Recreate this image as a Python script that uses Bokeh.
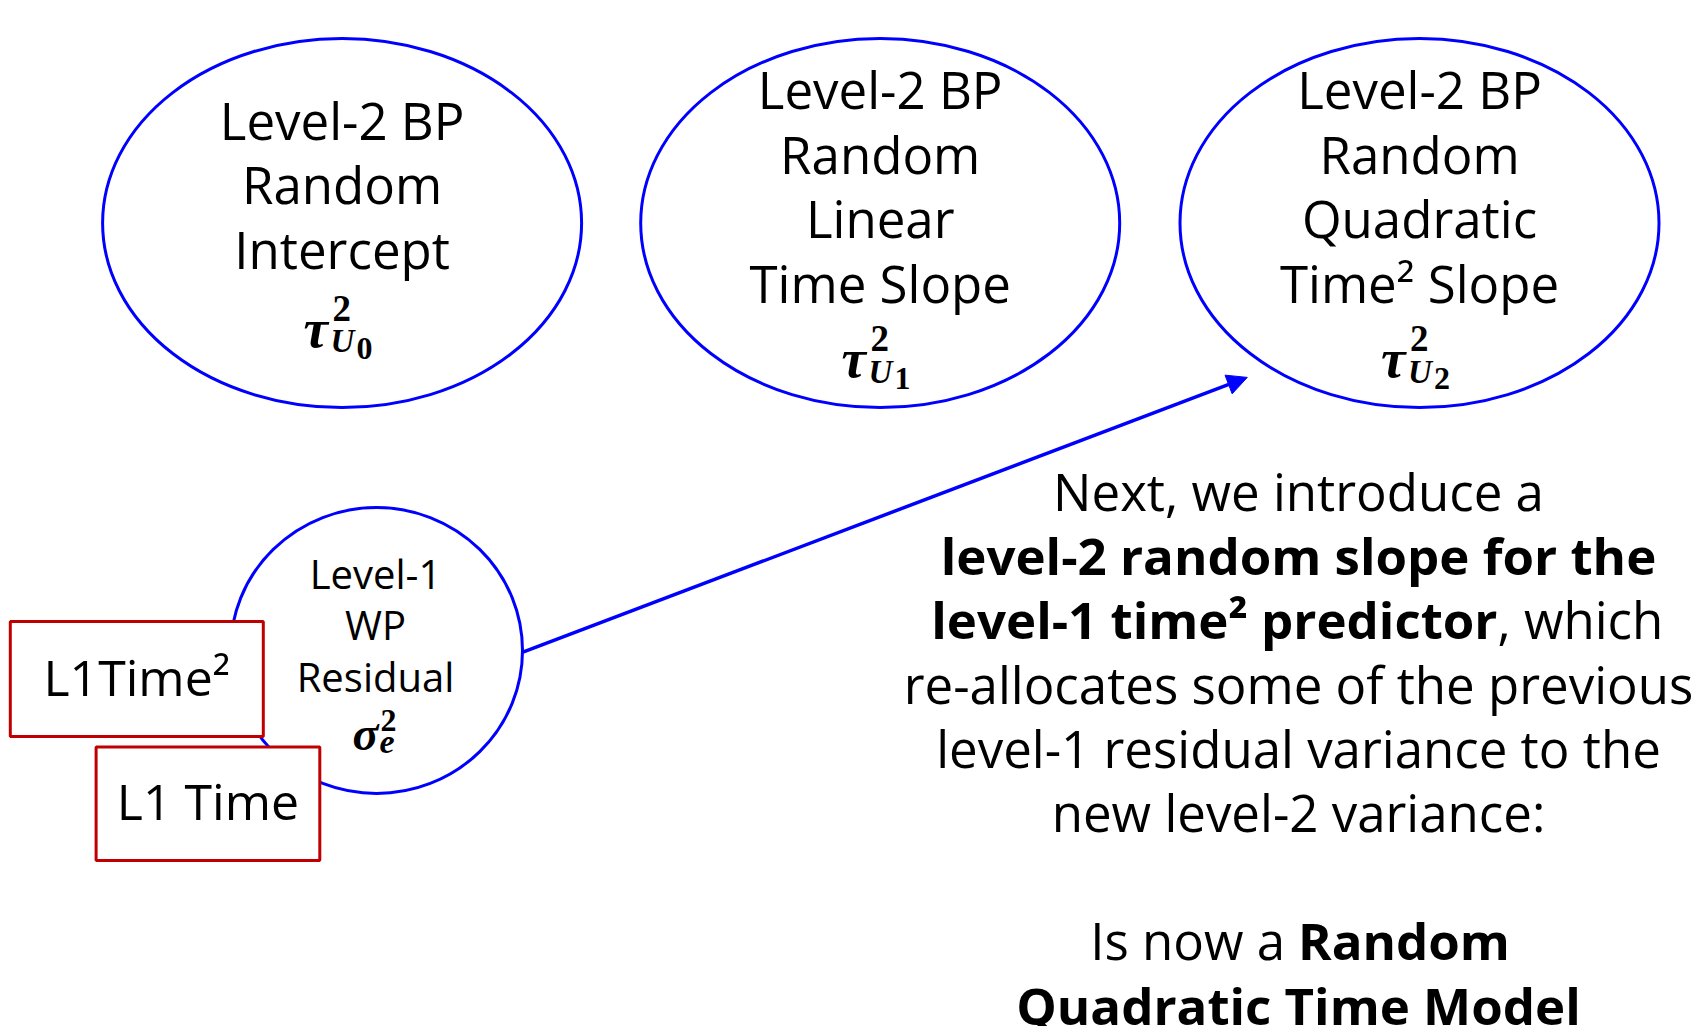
from bokeh.plotting import figure
from bokeh.models import Range1d, Arrow, NormalHead
from bokeh.embed import file_html
from bokeh.resources import INLINE
from bokeh.core.properties import value

# ---------------- content ----------------
bp_titles = [["Level-2 BP", "Random", "Intercept"],
             ["Level-2 BP", "Random", "Linear", "Time Slope"],
             ["Level-2 BP", "Random", "Quadratic", "Time\u00b2 Slope"]]
bp_math = [("\u03c4", "2", "U", "0"), ("\u03c4", "2", "U", "1"), ("\u03c4", "2", "U", "2")]
wp_title = ["Level-1", "WP", "Residual"]
wp_math = ("\u03c3", "2", "e", "")
predictors = ["L1Time\u00b2", "L1 Time"]
# each line: list of (text, bold)
note_lines = [
    [("Next, we introduce a", False)],
    [("level-2 random slope for the", True)],
    [("level-1 time\u00b2 predictor", True), (", which", False)],
    [("re-allocates some of the previous", False)],
    [("level-1 residual variance to the", False)],
    [("new level-2 variance:", False)],
    [("", False)],
    [("Is now a", False), ("Random", True)],
    [("Quadratic Time Model", True)],
]

# ---------------- layout (pixel-like data space) ----------------
W, H = 1703, 1026
FONT = "Open Sans"
MATH_FONT = "Liberation Serif"
BLUE = "#0000FF"
RED = "#C00000"

bp_cx = [341.6, 879.7, 1419.0]
bp_cy = 222.6
bp_w, bp_h = 479, 369
bp_first_y = [119.0, 88.5, 88.5]
bp_math_y = [316.5, 347.0, 347.0]
line_step = 64.5
big_size = 51

wp_cx, wp_cy, wp_w, wp_h = 376.0, 650.0, 292, 286
wp_first_y, wp_step, wp_size = 572.5, 51.5, 40
wp_math_xy = (373.5, 720.0)

pred_left = [9.8, 95.6]
pred_right = [262.8, 319.3]
pred_top = [621.0, 746.5]
pred_bottom = [736.0, 860.0]
pred_size = 50
pred_dy = -2.5

note_cx = 1298.0
note_first_y = 490.5
note_step = 64.2
note_split = {2: (1497.0, 0.0), 7: (1291.0, 13.0)}

arrow_start = (522.4, 651.7)
arrow_end = (1246.8, 376.9)

# math piece styles: (dx, baseline dy, size, font style)
TAU_STYLE = [(-38.6, 11.2, 55, "bold italic"),
             (-9.6, -8.8, 37, "bold"),
             (-11.6, 24.2, 33, "bold italic"),
             (14.4, 31.2, 32, "bold")]
SIGMA_STYLE = [(-21.5, 12.5, 48, "bold italic"),
               (6.5, -0.5, 32, "bold"),
               (5.5, 21.0, 34, "bold italic"),
               (0, 0, 1, "bold")]

p = figure(width=W, height=H, output_backend="svg", toolbar_location=None,
           x_range=Range1d(0, W), y_range=Range1d(H, 0), min_border=0)
p.axis.visible = False
p.grid.visible = False
p.outline_line_color = None
p.background_fill_color = "white"
p.border_fill_color = "white"

# ellipses
p.ellipse(x=bp_cx, y=[bp_cy] * 3, width=bp_w, height=bp_h,
          fill_color="white", line_color=BLUE, line_width=3)
p.ellipse(x=[wp_cx], y=[wp_cy], width=wp_w, height=wp_h,
          fill_color="white", line_color=BLUE, line_width=3)

# predictor boxes
p.quad(left=pred_left, right=pred_right, top=pred_top, bottom=pred_bottom,
       fill_color="white", line_color=RED, line_width=3)


def txt(xs, ys, texts, size, bold=False, align="center", baseline="middle",
        font=FONT, style=None):
    p.text(x=xs, y=ys, text=texts, text_font=value(font),
           text_font_size=value(f"{size}px"),
           text_font_style=style if style else ("bold" if bold else "normal"),
           text_align=align, text_baseline=baseline, text_color="black")


def math_label(cx, cy, parts, styles):
    for piece, (dx, dy, size, fstyle) in zip(parts, styles):
        if piece:
            txt([cx + dx], [cy + dy], [piece], size, align="left",
                baseline="alphabetic", font=MATH_FONT, style=fstyle)


for i, lines in enumerate(bp_titles):
    ys = [bp_first_y[i] + k * line_step for k in range(len(lines))]
    txt([bp_cx[i]] * len(lines), ys, lines, big_size)
    math_label(bp_cx[i], bp_math_y[i], bp_math[i], TAU_STYLE)

ys = [wp_first_y + k * wp_step for k in range(len(wp_title))]
txt([wp_cx - 1] * len(wp_title), ys, wp_title, wp_size)
math_label(wp_math_xy[0], wp_math_xy[1], wp_math, SIGMA_STYLE)

pred_cx = [(l + r) / 2 for l, r in zip(pred_left, pred_right)]
pred_cy = [(t + b) / 2 + pred_dy for t, b in zip(pred_top, pred_bottom)]
txt(pred_cx, pred_cy, predictors, pred_size)

for k, segs in enumerate(note_lines):
    y = note_first_y + k * note_step
    if len(segs) == 1:
        if segs[0][0]:
            txt([note_cx], [y], [segs[0][0]], big_size, bold=segs[0][1])
    else:
        sx, gap = note_split[k]
        (t1, b1), (t2, b2) = segs
        txt([sx - gap / 2], [y], [t1], big_size, bold=b1, align="right")
        txt([sx + gap / 2], [y], [t2], big_size, bold=b2, align="left")

p.add_layout(Arrow(end=NormalHead(size=20, fill_color=BLUE, line_color=BLUE, line_width=1),
                   x_start=arrow_start[0], y_start=arrow_start[1],
                   x_end=arrow_end[0], y_end=arrow_end[1],
                   line_color=BLUE, line_width=3.5))

open("out.html", "w").write(file_html(p, INLINE))
